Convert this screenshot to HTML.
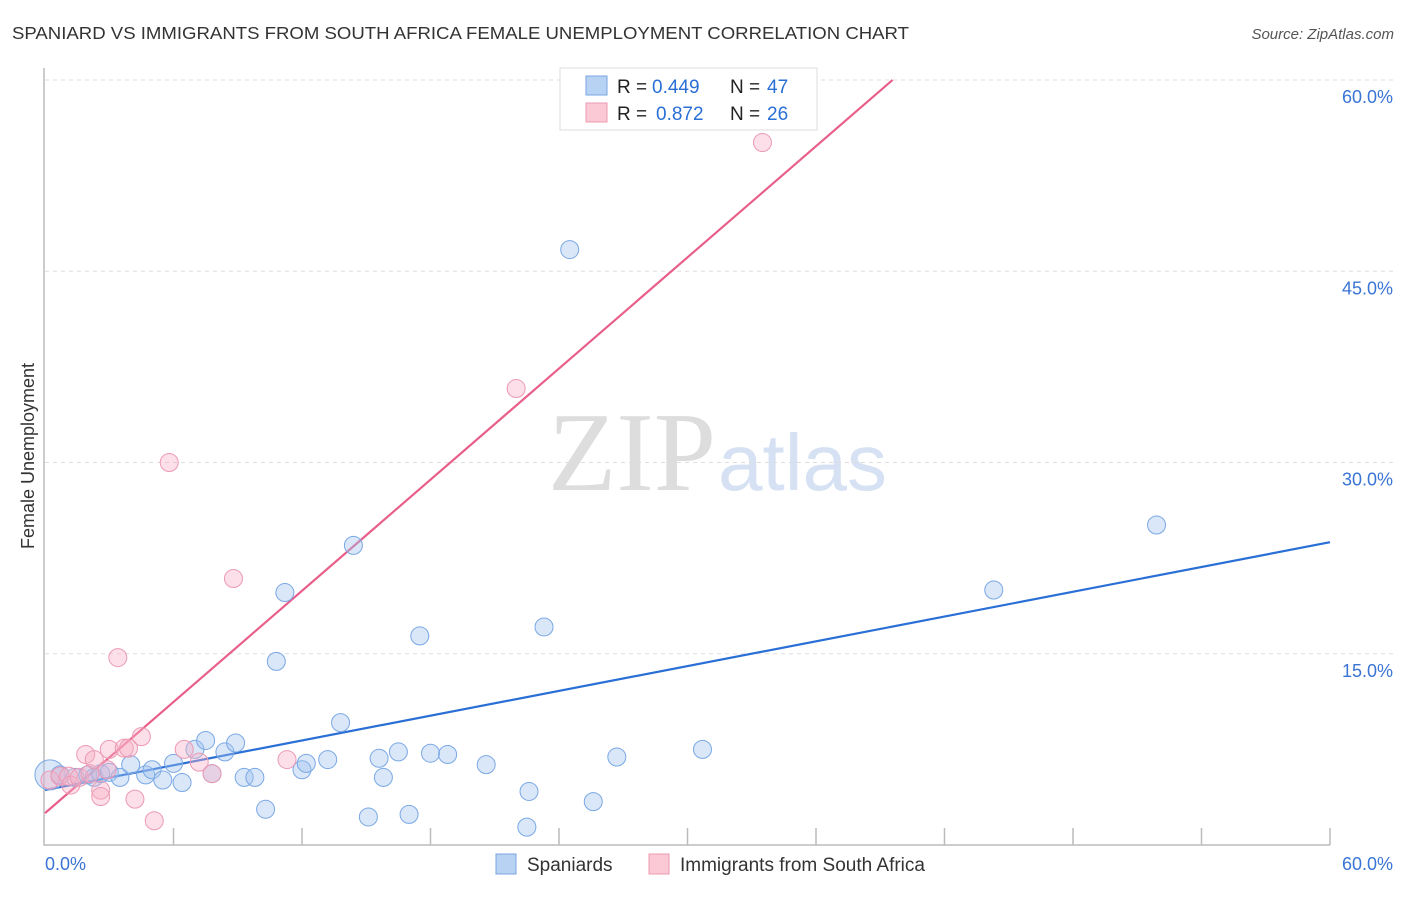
<!DOCTYPE html>
<html><head><meta charset="utf-8"><style>
body{margin:0;background:#fff;font-family:"Liberation Sans",sans-serif}
</style></head><body>
<svg width="1406" height="892" xmlns="http://www.w3.org/2000/svg" style="font-family:'Liberation Sans',sans-serif">
<text x="12" y="39" font-size="17.5" fill="#333" textLength="897" lengthAdjust="spacingAndGlyphs">SPANIARD VS IMMIGRANTS FROM SOUTH AFRICA FEMALE UNEMPLOYMENT CORRELATION CHART</text>
<text x="1394" y="39" font-size="15" fill="#555" font-style="italic" text-anchor="end">Source: ZipAtlas.com</text>
<text x="716" y="490" font-size="112" fill="#ddd" text-anchor="end" font-family="Liberation Serif">ZIP</text>
<text x="718" y="490" font-size="80" fill="#d6e2f3">atlas</text>
<text x="34" y="456" font-size="18" fill="#333" text-anchor="middle" transform="rotate(-90 34 456)">Female Unemployment</text>
<g id="grid"></g><g id="axes"></g><g id="lines"></g><g id="pts"></g>
<g font-size="19">
<rect x="560" y="68" width="257" height="62" fill="#fff" stroke="#ddd"/>
<rect x="586" y="76" width="21" height="19" fill="#b8d2f4" stroke="#7aa6e4"/>
<rect x="586" y="103" width="21" height="19" fill="#fbc8d6" stroke="#eb9ab2"/>
<text x="617" y="93" fill="#222">R =</text><text x="652" y="93" fill="#2a6fd6">0.449</text>
<text x="730" y="93" fill="#222">N =</text><text x="767" y="93" fill="#2a6fd6">47</text>
<text x="617" y="120" fill="#222">R =</text><text x="656" y="120" fill="#2a6fd6">0.872</text>
<text x="730" y="120" fill="#222">N =</text><text x="767" y="120" fill="#2a6fd6">26</text>
</g>
<g>
<rect x="496" y="854" width="20" height="20" fill="#b8d2f4" stroke="#7aa6e4"/>
<text x="527" y="871" font-size="19" fill="#333">Spaniards</text>
<rect x="649" y="854" width="20" height="20" fill="#fbc8d6" stroke="#eb9ab2"/>
<text x="680" y="871" font-size="19" fill="#333">Immigrants from South Africa</text>
</g>
</svg>
<script>
const yTicks=[15,30,45,60];
const yTickLabels=["15.0%","30.0%","45.0%","60.0%"];
const xTicks=[0,6,12,18,24,30,36,42,48,54,60];
const blueX=[0.23,0.7,1.4,2.0,2.3,2.6,3.0,3.5,4.0,4.7,5.0,5.5,6.0,6.4,7.0,7.5,7.8,8.4,8.9,9.3,9.8,10.3,10.8,11.2,12.0,12.2,13.2,13.8,14.4,15.1,15.6,15.8,16.5,17.0,17.5,18.0,18.8,20.6,22.5,22.6,23.3,24.5,25.6,26.7,30.7,44.3,51.9];
const blueY=[5.5,5.5,5.3,5.5,5.3,5.6,5.7,5.3,6.3,5.5,5.9,5.1,6.4,4.9,7.5,8.2,5.6,7.3,8.0,5.3,5.3,2.8,14.4,19.8,5.9,6.4,6.7,9.6,23.5,2.2,6.8,5.3,7.3,2.4,16.4,7.2,7.1,6.3,1.4,4.2,17.1,46.7,3.4,6.9,7.5,20.0,25.1];
const pinkX=[0.23,0.7,1.1,1.2,1.6,1.9,2.1,2.3,2.6,2.6,2.9,3.0,3.4,3.7,3.9,4.2,4.5,5.1,5.8,6.5,7.2,7.8,8.8,11.3,22.0,33.5];
const pinkY=[5.1,5.4,5.4,4.7,5.3,7.1,5.6,6.7,4.3,3.8,5.9,7.5,14.7,7.6,7.6,3.6,8.5,1.9,30.0,7.5,6.5,5.6,20.9,6.7,35.8,55.1];
const blueFit=[4.31,0.324];
const pinkFit=[2.5,1.453];
const NS="http://www.w3.org/2000/svg";
const X=v=>45+v/60*1285, Y=v=>845-v/60*765;
function mk(t,a,p){const e=document.createElementNS(NS,t);for(const k in a)e.setAttribute(k,a[k]);document.getElementById(p).appendChild(e);return e;}
yTicks.forEach((t,i)=>{
 const g=mk('line',{x1:45,x2:1393,y1:Y(t),y2:Y(t),stroke:'#ddd','stroke-dasharray':'4,4'},'grid');
 
 
 const l=mk('text',{x:1393,y:Y(t)+23,'font-size':18,fill:'#3a74d4','text-anchor':'end'},'grid');
 l.textContent=yTickLabels[i];
 
 
});
const ax=mk('path',{d:'M44,68V845H1330',fill:'none',stroke:'#bbb','stroke-width':1.5},'axes');


xTicks.slice(1).forEach(t=>{const tk=mk('line',{x1:X(t),x2:X(t),y1:828,y2:845,stroke:'#bbb','stroke-width':1.5},'axes');
 
 });
const x0=mk('text',{x:45,y:870,'font-size':18,fill:'#3a74d4'},'axes');x0.textContent='0.0%';


const x1=mk('text',{x:1393,y:870,'font-size':18,fill:'#3a74d4','text-anchor':'end'},'axes');x1.textContent='60.0%';


function pts(xs,ys,fill,stroke,name){xs.forEach((x,i)=>{const c=mk('circle',{cx:X(x),cy:Y(ys[i]),r:(i==0&&name=='spaniard-point')?15:9,fill:fill,stroke:stroke,'stroke-width':1},'pts');
 
 });}
pts(blueX,blueY,'rgba(160,196,240,0.4)','#7aa8e4','spaniard-point');
pts(pinkX,pinkY,'rgba(248,175,198,0.4)','#ec9ab4','south-africa-point');
const bl=mk('line',{x1:X(0),y1:Y(blueFit[0]),x2:X(60),y2:Y(blueFit[0]+blueFit[1]*60),stroke:'#2a6fd6','stroke-width':2.2},'lines');


const xe=(60-pinkFit[0])/pinkFit[1];
const pl=mk('line',{x1:X(0),y1:Y(pinkFit[0]),x2:X(xe),y2:Y(60),stroke:'#e8608a','stroke-width':2.2},'lines');


</script>
</body></html>
